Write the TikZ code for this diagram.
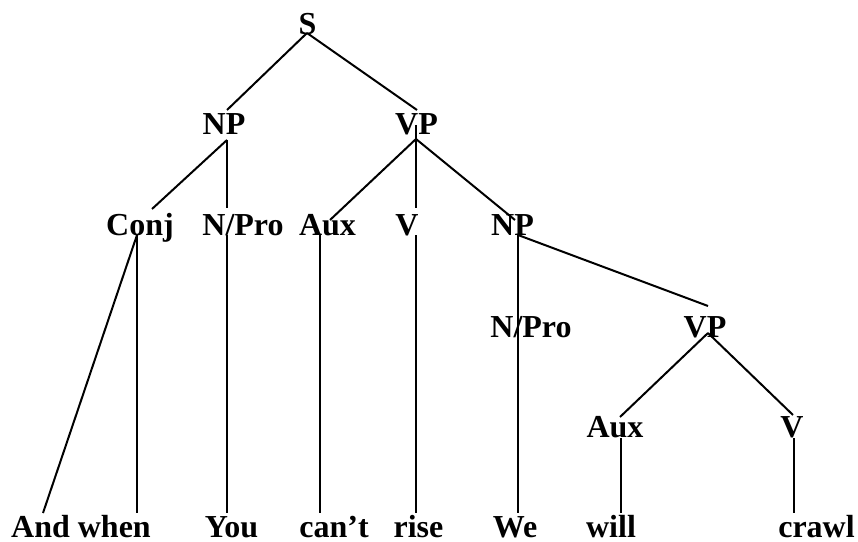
\documentclass[tikz,border=0pt]{standalone}
\usepackage{fontspec}
\setmainfont{Liberation Serif}
\begin{document}
\begin{tikzpicture}[x=0.75pt,y=-0.75pt,
  lbl/.style={anchor=base,inner sep=0pt,font=\fontsize{24}{28}\selectfont\bfseries},
  edge/.style={draw=black,line width=1.5pt}]
\useasboundingbox (0,0) rectangle (858,542);
% labels
\node[lbl] (S) at (307.5,35) {S};
\node[lbl] (NP) at (224,135) {NP};
\node[lbl] (VP) at (416.5,135) {VP};
\node[lbl] (Conj) at (140,235) {Conj};
\node[lbl] (NPro) at (243,235) {N/Pro};
\node[lbl] (Aux) at (327.5,235) {Aux};
\node[lbl] (V) at (407,235) {V};
\node[lbl] (NPb) at (512.5,235) {NP};
\node[lbl] (NProb) at (531,337) {N/Pro};
\node[lbl] (VPb) at (705,337) {VP};
\node[lbl] (Auxb) at (615,437) {Aux};
\node[lbl] (Vb) at (792,437) {V};
\node[lbl] (wAnd) at (81,537) {And when};
\node[lbl] (wYou) at (231.5,537) {You};
\node[lbl] (wCant) at (334,537) {can’t};
\node[lbl] (wRise) at (418.5,537) {rise};
\node[lbl] (wWe) at (515,537) {We};
\node[lbl] (wWill) at (611,537) {will};
\node[lbl] (wCrawl) at (816.5,537) {crawl};
% connector end points
\coordinate (sB) at (307,33);
\coordinate (npT) at (227,110);
\coordinate (vpT) at (417,110);
\coordinate (npB) at (227,140);
\coordinate (conjT) at (152,209);
\coordinate (nproT) at (227,208);
\coordinate (vpB) at (416,139);
\coordinate (vpM) at (416,125);
\coordinate (auxT) at (330,220);
\coordinate (vT) at (416,208);
\coordinate (npbT) at (515,220);
\coordinate (conjB) at (137,235);
\coordinate (andT) at (43,513);
\coordinate (whenT) at (137,513);
\coordinate (nproB) at (227,235);
\coordinate (youT) at (227,513);
\coordinate (auxB) at (320,235);
\coordinate (cantT) at (320,513);
\coordinate (vB) at (416,235);
\coordinate (riseT) at (416,513);
\coordinate (npbB) at (518,235);
\coordinate (weT) at (518,513);
\coordinate (vpbT) at (708,306);
\coordinate (vpbB) at (708,333);
\coordinate (auxbT) at (620,417);
\coordinate (vbT) at (793,415);
\coordinate (auxbB) at (621,438);
\coordinate (willT) at (621,513);
\coordinate (vbB) at (794,438);
\coordinate (crawlT) at (794,513);
% connectors
\draw[edge] (sB) -- (npT);
\draw[edge] (sB) -- (vpT);
\draw[edge] (npB) -- (conjT);
\draw[edge] (npB) -- (nproT);
\draw[edge] (vpB) -- (auxT);
\draw[edge] (vpM) -- (vT);
\draw[edge] (vpB) -- (npbT);
\draw[edge] (conjB) -- (andT);
\draw[edge] (conjB) -- (whenT);
\draw[edge] (nproB) -- (youT);
\draw[edge] (auxB) -- (cantT);
\draw[edge] (vB) -- (riseT);
\draw[edge] (npbB) -- (weT);
\draw[edge] (npbB) -- (vpbT);
\draw[edge] (vpbB) -- (auxbT);
\draw[edge] (vpbB) -- (vbT);
\draw[edge] (auxbB) -- (willT);
\draw[edge] (vbB) -- (crawlT);
\end{tikzpicture}
\end{document}
